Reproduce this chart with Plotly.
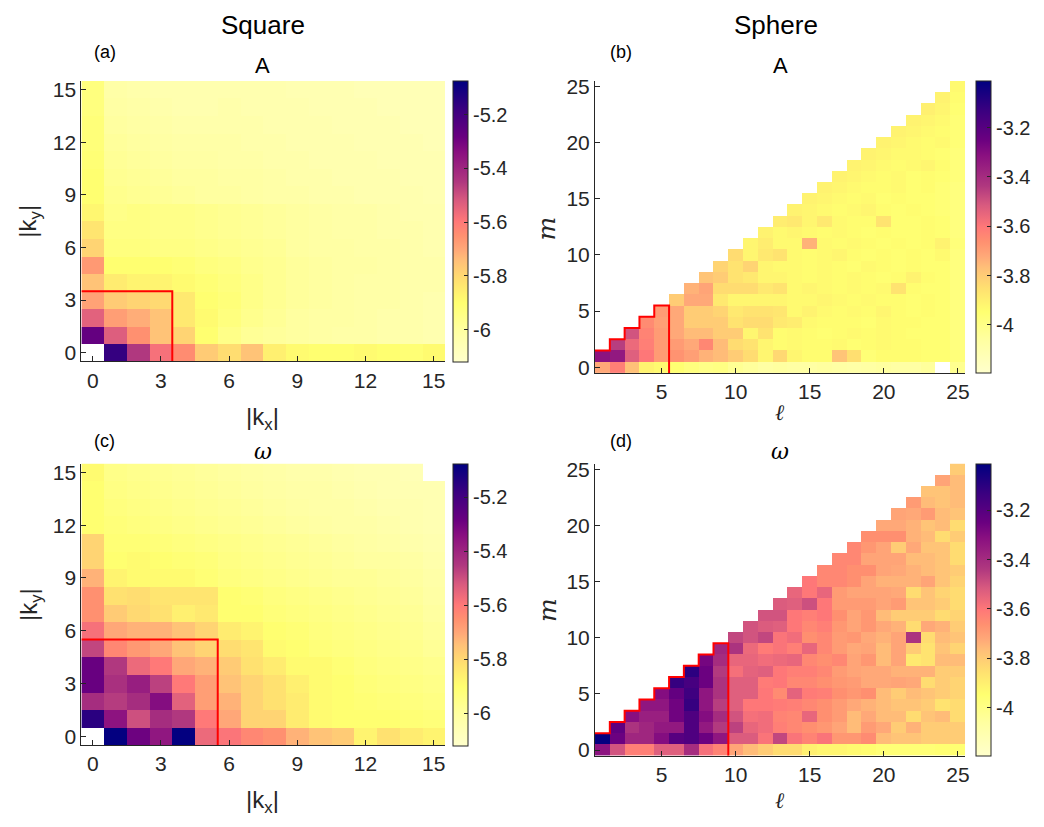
import math
import plotly.graph_objects as go

NaN = None

# ---------------- data ----------------
square_k = list(range(16))
sphere_l = list(range(1, 26))
sphere_m = list(range(26))

# Square, A : rows |k_y| = 0..15, columns |k_x| = 0..15
A_square = [
    [NaN, -5.17, -5.45, -5.58, -5.64, -5.77, -5.81, -5.75, -5.86, -5.89, -5.90, -5.90, -5.89, -5.90, -5.91, -5.89],
    [-5.27, -5.53, -5.65, -5.75, -5.79, -5.90, -5.95, -5.98, -5.99, -6.00, -6.01, -6.02, -6.02, -6.03, -6.03, -6.04],
    [-5.54, -5.68, -5.71, -5.75, -5.84, -5.89, -5.93, -5.96, -5.98, -6.00, -6.01, -6.01, -6.02, -6.03, -6.03, -6.04],
    [-5.69, -5.77, -5.79, -5.80, -5.84, -5.90, -5.92, -5.95, -5.97, -5.99, -6.00, -6.01, -6.02, -6.02, -6.03, -6.04],
    [-5.75, -5.85, -5.87, -5.87, -5.89, -5.91, -5.93, -5.95, -5.97, -5.99, -6.00, -6.01, -6.02, -6.02, -6.03, -6.03],
    [-5.67, -5.90, -5.90, -5.90, -5.91, -5.93, -5.94, -5.96, -5.97, -5.99, -6.00, -6.01, -6.01, -6.02, -6.03, -6.03],
    [-5.79, -5.93, -5.93, -5.94, -5.94, -5.95, -5.96, -5.97, -5.98, -6.00, -6.01, -6.01, -6.02, -6.02, -6.03, -6.04],
    [-5.83, -5.94, -5.94, -5.95, -5.95, -5.96, -5.97, -5.98, -5.99, -6.00, -6.01, -6.02, -6.02, -6.03, -6.03, -6.04],
    [-5.88, -5.95, -5.94, -5.95, -5.95, -5.96, -5.97, -5.98, -5.99, -6.00, -6.01, -6.02, -6.02, -6.03, -6.04, -6.04],
    [-5.90, -5.96, -5.97, -5.98, -5.99, -6.00, -6.00, -6.01, -6.02, -6.02, -6.03, -6.03, -6.04, -6.04, -6.04, -6.05],
    [-5.90, -5.97, -5.98, -5.99, -6.00, -6.00, -6.01, -6.01, -6.02, -6.03, -6.03, -6.04, -6.04, -6.04, -6.05, -6.05],
    [-5.91, -5.98, -5.99, -6.00, -6.01, -6.01, -6.02, -6.02, -6.03, -6.03, -6.04, -6.04, -6.04, -6.05, -6.05, -6.05],
    [-5.92, -5.99, -6.00, -6.01, -6.02, -6.02, -6.02, -6.03, -6.03, -6.04, -6.04, -6.04, -6.05, -6.05, -6.05, -6.06],
    [-5.92, -6.00, -6.01, -6.02, -6.03, -6.03, -6.03, -6.03, -6.04, -6.04, -6.04, -6.05, -6.05, -6.05, -6.06, -6.06],
    [-5.93, -6.01, -6.02, -6.03, -6.04, -6.04, -6.03, -6.04, -6.04, -6.04, -6.05, -6.05, -6.05, -6.06, -6.06, -6.06],
    [-5.93, -6.02, -6.03, -6.04, -6.04, -6.04, -6.04, -6.04, -6.04, -6.05, -6.05, -6.05, -6.06, -6.06, -6.06, -6.06],
]

# Square, omega
W_square = [
    [NaN, -5.08, -5.29, -5.36, -5.08, -5.56, -5.59, -5.63, -5.65, -5.72, -5.75, -5.77, -5.87, -5.82, -5.85, -5.87],
    [-5.15, -5.35, -5.50, -5.42, -5.45, -5.60, -5.70, -5.79, -5.79, -5.85, -5.89, -5.90, -5.90, -5.90, -5.91, -5.92],
    [-5.42, -5.46, -5.42, -5.33, -5.54, -5.68, -5.72, -5.79, -5.82, -5.85, -5.89, -5.90, -5.91, -5.92, -5.93, -5.94],
    [-5.28, -5.43, -5.38, -5.47, -5.60, -5.68, -5.75, -5.79, -5.82, -5.86, -5.89, -5.90, -5.92, -5.93, -5.94, -5.95],
    [-5.28, -5.45, -5.56, -5.60, -5.70, -5.72, -5.77, -5.82, -5.85, -5.89, -5.89, -5.91, -5.93, -5.94, -5.95, -5.96],
    [-5.48, -5.63, -5.67, -5.70, -5.75, -5.79, -5.81, -5.83, -5.89, -5.90, -5.92, -5.93, -5.94, -5.95, -5.96, -5.98],
    [-5.58, -5.70, -5.72, -5.72, -5.75, -5.79, -5.85, -5.87, -5.90, -5.91, -5.93, -5.94, -5.95, -5.96, -5.97, -5.99],
    [-5.65, -5.77, -5.80, -5.82, -5.86, -5.84, -5.90, -5.90, -5.92, -5.93, -5.94, -5.95, -5.96, -5.97, -5.98, -6.00],
    [-5.65, -5.82, -5.81, -5.83, -5.83, -5.83, -5.90, -5.91, -5.93, -5.94, -5.95, -5.96, -5.97, -5.98, -5.99, -6.01],
    [-5.72, -5.87, -5.89, -5.89, -5.89, -5.91, -5.93, -5.94, -5.95, -5.96, -5.97, -5.98, -5.98, -5.99, -6.00, -6.02],
    [-5.79, -5.90, -5.89, -5.90, -5.91, -5.92, -5.94, -5.95, -5.96, -5.97, -5.98, -5.99, -6.00, -6.00, -6.01, -6.03],
    [-5.79, -5.91, -5.91, -5.92, -5.93, -5.94, -5.95, -5.96, -5.97, -5.98, -5.99, -6.00, -6.01, -6.02, -6.03, -6.04],
    [-5.90, -5.92, -5.93, -5.94, -5.95, -5.96, -5.97, -5.98, -5.99, -6.00, -6.01, -6.02, -6.02, -6.03, -6.04, -6.05],
    [-5.90, -5.93, -5.94, -5.95, -5.96, -5.97, -5.98, -5.99, -6.00, -6.01, -6.02, -6.02, -6.03, -6.04, -6.04, -6.05],
    [-5.90, -5.94, -5.95, -5.96, -5.97, -5.98, -5.99, -6.00, -6.01, -6.02, -6.02, -6.03, -6.04, -6.05, -6.05, -6.05],
    [-5.89, -5.95, -5.96, -5.97, -5.98, -5.99, -6.00, -6.01, -6.02, -6.03, -6.03, -6.04, -6.05, -6.05, -6.06, NaN],
]

# Sphere, A : one list per m (0..25), values for l = max(m,1)..25
A_sphere = [
    [-3.72, -3.62, -3.77, -3.91, -3.93, -3.95, -3.98, -4.00, -3.99, -4.03, -4.05, -4.07, -4.06, -4.07, -4.07, -4.06, -4.07, -4.08, -4.07, -4.06, -4.07, -4.07, -4.05, NaN, -4.02],
    [-3.32, -3.34, -3.53, -3.60, -3.69, -3.67, -3.70, -3.74, -3.76, -3.80, -3.84, -3.92, -3.83, -3.92, -3.94, -3.94, -3.78, -3.85, -3.96, -3.94, -3.94, -3.94, -3.95, -3.95, -3.97],
    [-3.45, -3.56, -3.62, -3.69, -3.69, -3.72, -3.64, -3.76, -3.84, -3.86, -3.92, -3.94, -3.93, -3.94, -3.94, -3.93, -3.95, -3.94, -3.93, -3.94, -3.94, -3.95, -3.95, -3.98],
    [-3.50, -3.63, -3.69, -3.72, -3.76, -3.76, -3.80, -3.80, -3.92, -3.86, -3.94, -3.93, -3.94, -3.95, -3.94, -3.93, -3.94, -3.93, -3.94, -3.95, -3.95, -3.95, -3.98],
    [-3.65, -3.70, -3.72, -3.80, -3.80, -3.80, -3.86, -3.84, -3.84, -3.88, -3.89, -3.93, -3.94, -3.94, -3.94, -3.95, -3.93, -3.94, -3.94, -3.95, -3.95, -3.98],
    [-3.69, -3.72, -3.80, -3.80, -3.82, -3.88, -3.86, -3.86, -3.87, -3.93, -3.91, -3.93, -3.94, -3.93, -3.94, -3.92, -3.94, -3.95, -3.94, -3.95, -3.98],
    [-3.80, -3.72, -3.72, -3.88, -3.92, -3.92, -3.92, -3.92, -3.93, -3.93, -3.92, -3.93, -3.94, -3.93, -3.94, -3.94, -3.95, -3.94, -3.95, -3.98],
    [-3.74, -3.71, -3.84, -3.84, -3.84, -3.88, -3.86, -3.93, -3.92, -3.93, -3.94, -3.93, -3.94, -3.93, -3.86, -3.94, -3.95, -3.95, -3.98],
    [-3.78, -3.80, -3.86, -3.88, -3.92, -3.92, -3.93, -3.94, -3.93, -3.94, -3.93, -3.94, -3.95, -3.94, -3.91, -3.94, -3.95, -3.98],
    [-3.82, -3.86, -3.82, -3.92, -3.93, -3.93, -3.94, -3.93, -3.94, -3.95, -3.93, -3.94, -3.95, -3.94, -3.95, -3.95, -3.98],
    [-3.84, -3.92, -3.88, -3.86, -3.93, -3.94, -3.93, -3.92, -3.94, -3.95, -3.94, -3.95, -3.94, -3.95, -3.93, -3.98],
    [-3.92, -3.89, -3.93, -3.93, -3.74, -3.93, -3.94, -3.93, -3.94, -3.95, -3.94, -3.95, -3.94, -3.91, -3.97],
    [-3.91, -3.93, -3.92, -3.93, -3.94, -3.93, -3.94, -3.95, -3.94, -3.95, -3.95, -3.94, -3.95, -3.98],
    [-3.89, -3.88, -3.92, -3.88, -3.93, -3.94, -3.94, -3.86, -3.95, -3.95, -3.94, -3.95, -3.98],
    [-3.91, -3.92, -3.93, -3.94, -3.93, -3.92, -3.94, -3.95, -3.94, -3.95, -3.96, -3.98],
    [-3.91, -3.92, -3.93, -3.94, -3.93, -3.95, -3.94, -3.95, -3.95, -3.96, -3.98],
    [-3.91, -3.92, -3.93, -3.94, -3.94, -3.93, -3.95, -3.94, -3.96, -3.98],
    [-3.91, -3.92, -3.93, -3.94, -3.93, -3.95, -3.94, -3.95, -3.97],
    [-3.91, -3.92, -3.93, -3.94, -3.93, -3.92, -3.94, -3.97],
    [-3.91, -3.92, -3.93, -3.93, -3.94, -3.95, -3.97],
    [-3.91, -3.92, -3.93, -3.94, -3.93, -3.96],
    [-3.91, -3.92, -3.93, -3.94, -3.96],
    [-3.91, -3.92, -3.93, -3.96],
    [-3.90, -3.92, -3.95],
    [-3.91, -3.94],
    [-3.93],
]

# Sphere, omega
W_sphere = [
    [-3.32, -3.50, -3.62, -3.62, -3.53, -3.53, -3.40, -3.58, -3.63, -3.71, -3.76, -3.80, -3.84, -3.84, -3.90, -3.92, -3.92, -3.93, -3.94, -3.96, -3.96, -3.96, -3.96, -3.95, -3.95],
    [-3.02, -3.25, -3.38, -3.38, -3.30, -3.20, -3.18, -3.25, -3.33, -3.52, -3.52, -3.59, -3.47, -3.59, -3.63, -3.59, -3.68, -3.68, -3.65, -3.76, -3.78, -3.78, -3.80, -3.80, -3.80],
    [-3.22, -3.42, -3.38, -3.34, -3.34, -3.18, -3.34, -3.44, -3.46, -3.55, -3.57, -3.62, -3.64, -3.66, -3.68, -3.71, -3.76, -3.69, -3.72, -3.80, -3.74, -3.80, -3.80, -3.80],
    [-3.31, -3.36, -3.36, -3.26, -3.18, -3.30, -3.40, -3.50, -3.58, -3.57, -3.63, -3.64, -3.55, -3.66, -3.69, -3.76, -3.72, -3.76, -3.76, -3.84, -3.78, -3.76, -3.84],
    [-3.33, -3.33, -3.26, -3.12, -3.33, -3.45, -3.53, -3.60, -3.60, -3.61, -3.62, -3.64, -3.66, -3.69, -3.72, -3.74, -3.76, -3.78, -3.78, -3.80, -3.86, -3.84],
    [-3.30, -3.23, -3.14, -3.33, -3.42, -3.53, -3.53, -3.60, -3.65, -3.54, -3.61, -3.62, -3.66, -3.68, -3.66, -3.76, -3.80, -3.76, -3.78, -3.80, -3.82],
    [-3.12, -3.16, -3.25, -3.42, -3.53, -3.53, -3.61, -3.60, -3.64, -3.64, -3.66, -3.68, -3.69, -3.72, -3.72, -3.71, -3.72, -3.84, -3.80, -3.82],
    [-3.10, -3.25, -3.44, -3.58, -3.54, -3.53, -3.60, -3.62, -3.62, -3.64, -3.69, -3.71, -3.72, -3.72, -3.74, -3.74, -3.74, -3.80, -3.80],
    [-3.27, -3.40, -3.55, -3.55, -3.57, -3.56, -3.55, -3.64, -3.66, -3.64, -3.71, -3.68, -3.76, -3.71, -3.88, -3.86, -3.76, -3.76],
    [-3.38, -3.42, -3.56, -3.61, -3.59, -3.62, -3.55, -3.64, -3.69, -3.72, -3.71, -3.76, -3.71, -3.80, -3.86, -3.78, -3.82],
    [-3.47, -3.50, -3.47, -3.59, -3.57, -3.66, -3.64, -3.69, -3.68, -3.72, -3.74, -3.71, -3.42, -3.84, -3.76, -3.78],
    [-3.50, -3.52, -3.53, -3.60, -3.64, -3.62, -3.68, -3.71, -3.68, -3.72, -3.74, -3.84, -3.72, -3.74, -3.80],
    [-3.50, -3.50, -3.60, -3.62, -3.60, -3.66, -3.71, -3.68, -3.76, -3.80, -3.80, -3.80, -3.84, -3.82],
    [-3.52, -3.53, -3.49, -3.60, -3.69, -3.69, -3.69, -3.71, -3.69, -3.78, -3.78, -3.80, -3.84],
    [-3.55, -3.60, -3.55, -3.69, -3.71, -3.71, -3.71, -3.72, -3.84, -3.78, -3.82, -3.84],
    [-3.60, -3.64, -3.64, -3.66, -3.71, -3.74, -3.74, -3.74, -3.71, -3.78, -3.82],
    [-3.64, -3.64, -3.66, -3.66, -3.71, -3.72, -3.74, -3.76, -3.78, -3.80],
    [-3.64, -3.64, -3.71, -3.71, -3.71, -3.76, -3.76, -3.78, -3.84],
    [-3.64, -3.68, -3.71, -3.80, -3.72, -3.78, -3.78, -3.84],
    [-3.66, -3.66, -3.66, -3.74, -3.76, -3.84, -3.80],
    [-3.72, -3.72, -3.74, -3.78, -3.76, -3.84],
    [-3.71, -3.72, -3.69, -3.76, -3.78],
    [-3.69, -3.76, -3.78, -3.76],
    [-3.78, -3.78, -3.76],
    [-3.71, -3.76],
    [-3.80],
]

cutoff_square_A = 3
cutoff_square_W = 5
cutoff_sphere_A = 5
cutoff_sphere_W = 9

square_range = [-6.12, -5.075]
sphere_range = [-4.195, -3.01]
square_ticks = [-6.0, -5.8, -5.6, -5.4, -5.2]
square_ticktext = ["-6", "-5.8", "-5.6", "-5.4", "-5.2"]
sphere_ticks = [-4.0, -3.8, -3.6, -3.4, -3.2]
sphere_ticktext = ["-4", "-3.8", "-3.6", "-3.4", "-3.2"]


# ---------------- helpers ----------------
def sphere_grid(rows):
    grid = []
    for m, vals in zip(sphere_m, rows):
        start = max(m, 1)
        row = [NaN] * (start - 1) + list(vals)
        assert len(row) == len(sphere_l), (m, len(row))
        grid.append(row)
    return grid


def square_box(c):
    return [-0.5, c + 0.5, c + 0.5], [c + 0.5, c + 0.5, -0.5]


def sphere_stair(c):
    xs, ys = [], []
    for l in range(1, c + 1):
        xs += [l - 0.5, l + 0.5]
        ys += [l + 0.5, l + 0.5]
    xs.append(c + 0.5)
    ys.append(-0.5)
    return xs, ys


cscale = [
    [0.0, "#ffffcc"], [0.115, "#ffffa0"], [0.21, "#ffff70"], [0.29, "#ffe070"],
    [0.36, "#ffc078"], [0.40, "#ffa878"], [0.45, "#ff9070"], [0.50, "#ff7878"],
    [0.575, "#d85a7f"], [0.64, "#b0387f"], [0.745, "#8a1080"], [0.80, "#6a0080"],
    [0.90, "#3a0080"], [1.0, "#000080"],
]

W, H = 1044, 827
TXT = "#262626"
FONT = "Liberation Sans, Arial, Helvetica, sans-serif"
SERIF = "DejaVu Serif, Liberation Serif, serif"


def px(x):
    return x / W


def py(y):
    return 1 - y / H


# pixel boxes: (left, right, top, bottom)
boxes = {
    "a": (81.7, 446.7, 76.0, 360.7),
    "b": (597.3, 969.0, 76.0, 372.3),
    "c": (81.7, 446.7, 464.3, 750.0),
    "d": (597.3, 969.0, 464.3, 760.7),
}
cbx = {"a": 455.0, "b": 980.0, "c": 455.0, "d": 980.0}

fig = go.Figure()

panels = [
    ("a", "x", "y", square_k, square_k, A_square, square_range, square_ticks, square_ticktext),
    ("b", "x2", "y2", sphere_l, sphere_m, sphere_grid(A_sphere), sphere_range, sphere_ticks, sphere_ticktext),
    ("c", "x3", "y3", square_k, square_k, W_square, square_range, square_ticks, square_ticktext),
    ("d", "x4", "y4", sphere_l, sphere_m, sphere_grid(W_sphere), sphere_range, sphere_ticks, sphere_ticktext),
]

for key, xa, ya, xs, ys, z, zr, tv, tt in panels:
    l, r, t, b = boxes[key]
    z_clean = [[(float("nan") if v is None else v) for v in row] for row in z]
    fig.add_trace(go.Heatmap(
        x=xs, y=ys, z=z_clean, xaxis=xa, yaxis=ya,
        zmin=zr[0], zmax=zr[1], colorscale=cscale, hoverongaps=False,
        colorbar=dict(
            x=px(cbx[key]), xanchor="left", xref="paper",
            y=py(t), yanchor="top", len=(b - t) / H, lenmode="fraction",
            thickness=15, outlinecolor=TXT, outlinewidth=1,
            tickvals=tv, ticktext=tt, ticks="inside", ticklen=4, tickcolor=TXT,
            tickfont=dict(family=FONT, size=20, color=TXT), ypad=0, xpad=0,
        ),
    ))

# red boundary lines
for xa, ya, (lx, ly) in [
    ("x", "y", square_box(cutoff_square_A)),
    ("x2", "y2", sphere_stair(cutoff_sphere_A)),
    ("x3", "y3", square_box(cutoff_square_W)),
    ("x4", "y4", sphere_stair(cutoff_sphere_W)),
]:
    fig.add_trace(go.Scatter(x=lx, y=ly, xaxis=xa, yaxis=ya, mode="lines",
                             line=dict(color="#ff0000", width=2), showlegend=False,
                             hoverinfo="skip", cliponaxis=False))

axis_common = dict(showline=True, linecolor=TXT, linewidth=1, ticks="inside", ticklen=5,
                   tickcolor=TXT, tickfont=dict(family=FONT, size=21, color=TXT),
                   showgrid=False, zeroline=False, mirror=False)

layout = dict(width=W, height=H, margin=dict(l=0, r=0, t=0, b=0),
              paper_bgcolor="white", plot_bgcolor="white", showlegend=False)

for i, key in enumerate(["a", "b", "c", "d"]):
    l, r, t, b = boxes[key]
    sfx = "" if i == 0 else str(i + 1)
    if key in ("a", "c"):
        xrng, yrng = [-0.5, 15.5], [-0.5, 15.5]
        xt = [0, 3, 6, 9, 12, 15]
        yt = [0, 3, 6, 9, 12, 15]
    else:
        xrng, yrng = [0.5, 25.5], [-0.5, 25.5]
        xt = [5, 10, 15, 20, 25]
        yt = [0, 5, 10, 15, 20, 25]
    layout["xaxis" + sfx] = dict(axis_common, domain=[px(l), px(r)], range=xrng,
                                 tickvals=xt, anchor="y" + sfx)
    layout["yaxis" + sfx] = dict(axis_common, domain=[py(b), py(t)], range=yrng,
                                 tickvals=yt, anchor="x" + sfx)

fig.update_layout(**layout)


def ann(x, y, text, size, family=FONT, angle=0, color="black", style="normal"):
    fig.add_annotation(x=px(x), y=py(y), xref="paper", yref="paper", text=text,
                       showarrow=False, textangle=angle, xanchor="center", yanchor="middle",
                       font=dict(family=family, size=size, color=color, style=style))


ann(264, 19, "Square", 26)
ann(779, 19, "Sphere", 26)
ann(105, 47, "(a)", 18)
ann(623, 47, "(b)", 18)
ann(105, 441, "(c)", 18)
ann(623, 441, "(d)", 18)
ann(264, 60, "A", 22)
ann(783, 60, "A", 22)
ann(264, 452, "ω", 22, family=SERIF, style="italic")
ann(783, 452, "ω", 22, family=SERIF, style="italic")
ann(30, 218, "|k<sub>y</sub>|", 24, angle=-90, color=TXT)
ann(30, 607, "|k<sub>y</sub>|", 24, angle=-90, color=TXT)
ann(264, 419, "|k<sub>x</sub>|", 24, color=TXT)
ann(264, 807, "|k<sub>x</sub>|", 24, color=TXT)
ann(549, 226, "m", 25, family=SERIF, angle=-90, color=TXT, style="italic")
ann(549, 613, "m", 25, family=SERIF, angle=-90, color=TXT, style="italic")
ann(783, 412, "ℓ", 22, family=SERIF, color=TXT, style="italic")
ann(783, 806, "ℓ", 22, family=SERIF, color=TXT, style="italic")

fig.write_html("out.html")
